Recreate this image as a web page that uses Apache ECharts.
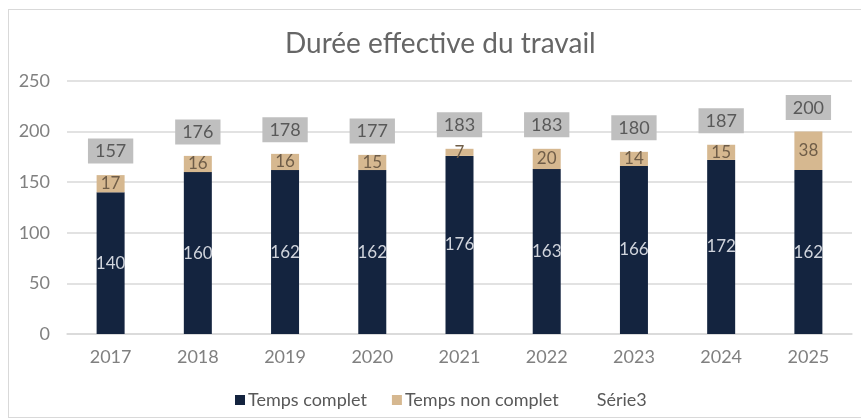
<!DOCTYPE html>
<html><head><meta charset="utf-8">
<script src="https://cdn.jsdelivr.net/npm/echarts@6/dist/echarts.min.js"></script>
<style>html,body{margin:0;padding:0;background:#fff}#frame{position:absolute;left:8px;top:9px;width:856px;height:409px;border:1.5px solid #d9d9d9;box-sizing:border-box}#c{width:861px;height:419px;position:absolute;left:0;top:0}</style>
</head><body><div id="frame"></div><div id="c"></div>
<script>
const years = ['2017','2018','2019','2020','2021','2022','2023','2024','2025'];
const tempsComplet = [140,160,162,162,176,163,166,172,162];
const tempsNonComplet = [17,16,16,15,7,20,14,15,38];
const totals = [157,176,178,177,183,183,180,187,200];
const yTicks = [0,50,100,150,200,250];

const font = 'Lato, "Noto Sans", sans-serif';
const chart = echarts.init(document.getElementById('c'));
chart.setOption({
  animation:false,
  textStyle:{fontFamily:font},
  title:{text:'Durée effective du travail',left:280,top:25,textStyle:{fontSize:28,fontWeight:'normal',color:'#666666',fontFamily:font}},
  grid:{left:67,right:9,top:81,bottom:85,containLabel:false},
  legend:{top:386,left:230,itemWidth:10,itemHeight:10,itemGap:25,textStyle:{fontSize:18,color:'#595959',fontFamily:font,padding:[0,0,0,-2]},
    data:[{name:'Temps complet',icon:'rect'},{name:'Temps non complet',icon:'rect'},{name:'Série3',icon:'rect',itemStyle:{opacity:0}}]},
  xAxis:{type:'category',data:years,axisLine:{lineStyle:{color:'#d9d9d9',width:1.5}},axisTick:{show:false},
    axisLabel:{color:'#808080',fontSize:18,margin:14,fontFamily:font}},
  yAxis:{type:'value',min:yTicks[0],max:yTicks[yTicks.length-1],interval:50,axisLine:{show:false},axisTick:{show:false},
    splitLine:{lineStyle:{color:'#d9d9d9',width:1.5}},axisLabel:{color:'#808080',fontSize:18,margin:17,fontFamily:font}},
  series:[
    {name:'Temps complet',type:'bar',stack:'t',data:tempsComplet,barWidth:28,itemStyle:{color:'#14243f'},
      label:{show:true,position:'inside',color:'#d0d4dc',fontSize:17,fontFamily:font}},
    {name:'Temps non complet',type:'bar',stack:'t',data:tempsNonComplet,barWidth:28,itemStyle:{color:'#d6b890'},
      label:{show:true,position:'inside',color:'#6f5d48',fontSize:17,fontFamily:font}},
    {name:'Série3',type:'line',data:totals,symbol:'circle',symbolSize:1,showSymbol:true,lineStyle:{opacity:0},itemStyle:{color:'rgba(0,0,0,0)'},
      label:{show:true,position:'top',distance:11,backgroundColor:'#bfbfbf',color:'#595959',fontSize:18,padding:[4,7,3,7],fontFamily:font}}
  ]
});
</script></body></html>
